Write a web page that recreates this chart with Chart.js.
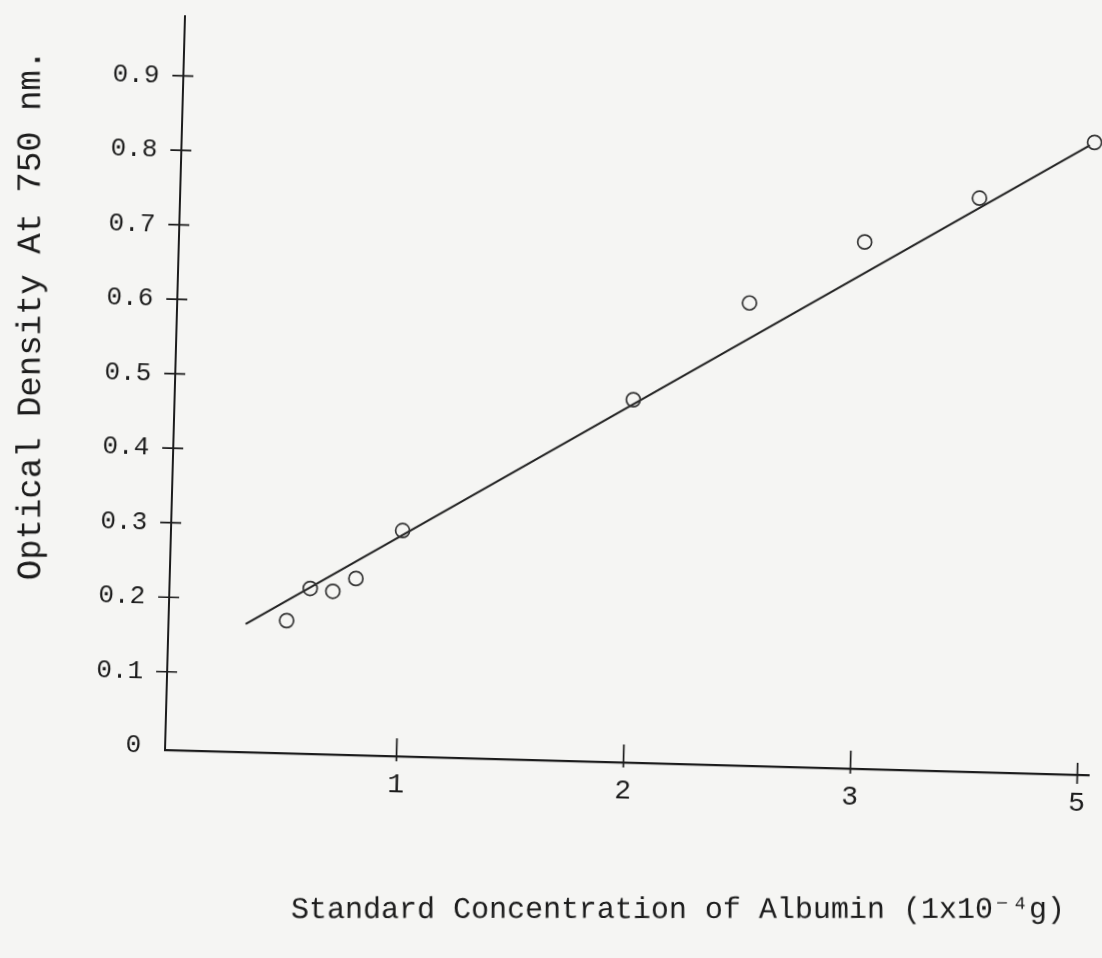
<!DOCTYPE html>
<html>
<head>
<meta charset="utf-8">
<title>Standard Concentration of Albumin</title>
<script src="https://cdn.jsdelivr.net/npm/chart.js@4.4.1/dist/chart.umd.min.js"></script>
<style>
  html, body {
    margin: 0;
    padding: 0;
    background: #f5f5f3;
    overflow: hidden;
  }
  #wrap {
    width: 1102px;
    height: 958px;
    /* the hand drawn axes sit slightly askew on the page */
    transform-origin: 165px 750px;
  }
</style>
</head>
<body>
<div id="wrap"><canvas id="albuminChart" width="1102" height="958"></canvas></div>
<script>
    // Measured points (x in 1x10^-4 g, y = optical density)
    const concentration = [0.5, 0.6, 0.7, 0.8, 1.0, 2.0, 2.5, 3.0, 3.5, 4.0];
    const opticalDensity = [0.173, 0.217, 0.214, 0.232, 0.298, 0.482, 0.616, 0.702, 0.765, 0.844];

    // Drawn best fit line, read at its two ends
    const fitX = [0.32, 3.98];
    const fitY = [0.167, 0.840];

    // Axis ticks as printed on the page
    const xTickValues = [1, 2, 3, 4];
    const xTickLabels = ['1', '2', '3', '5'];
    const yTickValues = [0, 0.1, 0.2, 0.3, 0.4, 0.5, 0.6, 0.7, 0.8, 0.9];
    const yTickLabels = ['0', '0.1', '0.2', '0.3', '0.4', '0.5', '0.6', '0.7', '0.8', '0.9'];

    const xTitle = 'Standard Concentration of Albumin (1x10\u207B\u2074g)';
    const yTitle = 'Optical Density At 750 nm.';

    const ink = '#1c1c1c';
    const mono = "'Liberation Mono', 'DejaVu Sans Mono', monospace";

    // Page tilt (degrees) and the corner it turns about
    const tilt = 1.56;
    const pivot = { x: 165, y: 750 };
    const wrap = document.getElementById('wrap');
    wrap.style.transform = `rotate(${tilt}deg)`;

    // Page position -> canvas position, undoing the tilt
    function toCanvas(sx, sy) {
        const t = tilt * Math.PI / 180;
        const dx = sx - pivot.x, dy = sy - pivot.y;
        return {
            x: pivot.x + dx * Math.cos(t) + dy * Math.sin(t),
            y: pivot.y - dx * Math.sin(t) + dy * Math.cos(t)
        };
    }

    Chart.defaults.font.family = mono;
    Chart.defaults.color = ink;

    // Tick marks that cross the axis line, and the typed titles (kept level on the page)
    const axisMarks = {
        id: 'axisMarks',
        afterDraw(chart) {
            const { ctx, chartArea, scales } = chart;
            ctx.save();
            ctx.strokeStyle = ink;
            ctx.lineWidth = 1.7;
            ctx.beginPath();
            yTickValues.forEach(v => {
                if (v === 0) return;
                const py = scales.y.getPixelForValue(v);
                ctx.moveTo(chartArea.left - 11, py);
                ctx.lineTo(chartArea.left + 10, py);
            });
            xTickValues.forEach((v, i) => {
                const px = scales.x.getPixelForValue(v);
                const last = i === xTickValues.length - 1;
                ctx.moveTo(px, chartArea.bottom - (last ? 12 : 18));
                ctx.lineTo(px, chartArea.bottom + (last ? 9 : 5));
            });
            ctx.stroke();
            ctx.restore();

            const t = tilt * Math.PI / 180;
            ctx.save();
            ctx.font = '30px ' + mono;
            ctx.fillStyle = ink;
            ctx.textAlign = 'center';
            ctx.textBaseline = 'middle';
            const xt = toCanvas(678, 910);
            ctx.translate(xt.x, xt.y);
            ctx.rotate(-t);
            ctx.fillText(xTitle, 0, 0);
            ctx.restore();

            ctx.save();
            ctx.font = '34px ' + mono;
            ctx.fillStyle = ink;
            ctx.textAlign = 'center';
            ctx.textBaseline = 'middle';
            const yt = toCanvas(31, 315);
            ctx.translate(yt.x, yt.y);
            ctx.rotate(-t - Math.PI / 2);
            ctx.fillText(yTitle, 0, 0);
            ctx.restore();
        }
    };

    new Chart(document.getElementById('albuminChart'), {
        type: 'scatter',
        data: {
            datasets: [
                {
                    label: 'Albumin standard',
                    data: concentration.map((x, i) => ({ x: x, y: opticalDensity[i] })),
                    pointStyle: 'circle',
                    pointRadius: 7,
                    pointBorderWidth: 1.7,
                    pointBorderColor: '#333333',
                    pointBackgroundColor: 'rgba(0,0,0,0)',
                    showLine: false
                },
                {
                    label: 'Fit',
                    data: fitX.map((x, i) => ({ x: x, y: fitY[i] })),
                    showLine: true,
                    borderColor: '#222222',
                    borderWidth: 2,
                    pointRadius: 0
                }
            ]
        },
        options: {
            responsive: false,
            animation: false,
            layout: {
                padding: { left: 0, top: 16, right: 13, bottom: 0 }
            },
            plugins: {
                legend: { display: false },
                tooltip: { enabled: false }
            },
            scales: {
                x: {
                    type: 'linear',
                    min: -0.02,
                    max: 4.05,
                    afterBuildTicks: scale => {
                        scale.ticks = xTickValues.map(v => ({ value: v }));
                    },
                    afterFit: scale => {
                        scale.height = 208;
                        scale.paddingLeft = 0;
                        scale.paddingRight = 0;
                    },
                    ticks: {
                        callback: (value, index) => xTickLabels[index],
                        font: { size: 28 },
                        padding: 12,
                        maxRotation: 0
                    },
                    grid: { display: false, drawTicks: false },
                    border: { color: ink, width: 2.2 }
                },
                y: {
                    type: 'linear',
                    min: -0.005,
                    max: 0.98,
                    afterBuildTicks: scale => {
                        scale.ticks = yTickValues.map(v => ({ value: v }));
                    },
                    afterFit: scale => {
                        scale.width = 165;
                        scale.paddingTop = 0;
                        scale.paddingBottom = 0;
                    },
                    ticks: {
                        callback: (value, index) => yTickLabels[index],
                        font: { size: 26 },
                        padding: 24
                    },
                    grid: { display: false, drawTicks: false },
                    border: { color: ink, width: 2 }
                }
            }
        },
        plugins: [axisMarks]
    });
</script>
</body>
</html>
